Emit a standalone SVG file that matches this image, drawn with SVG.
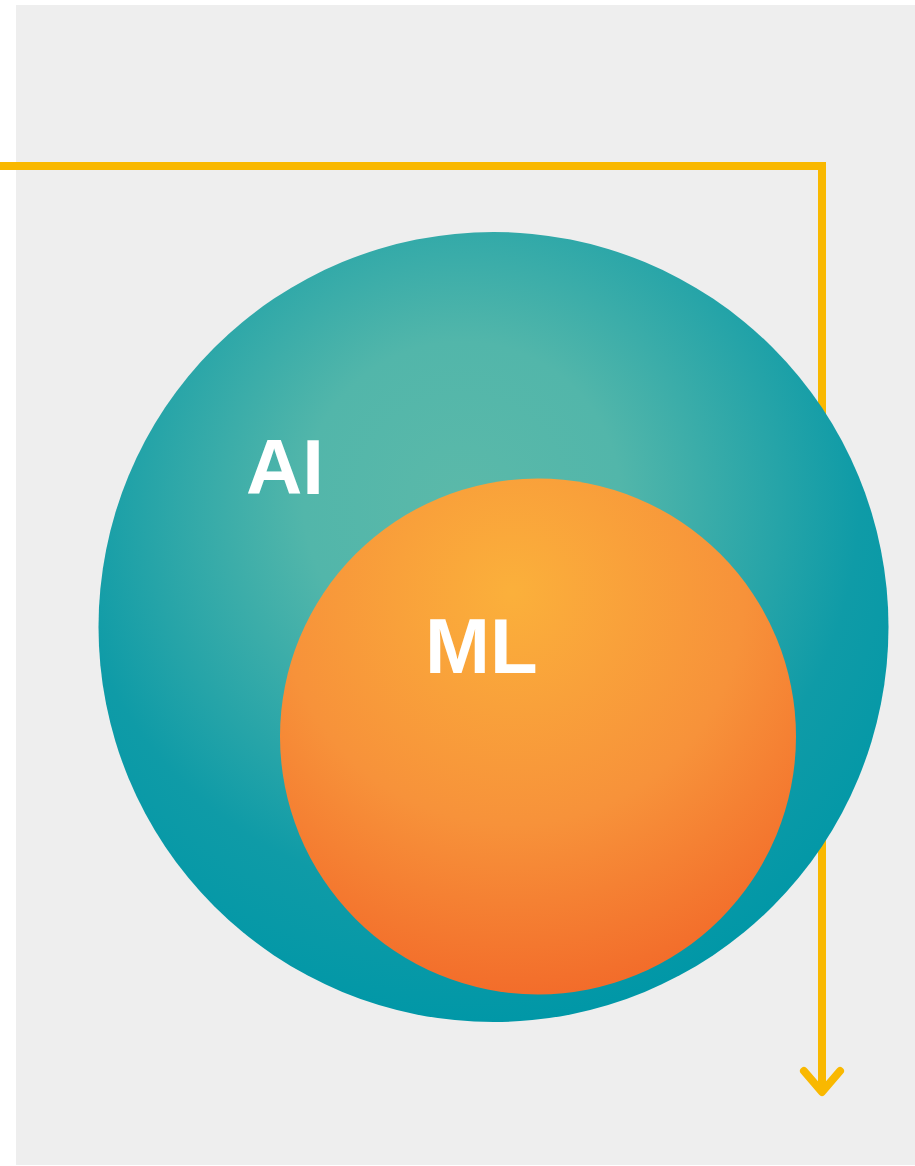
<svg xmlns="http://www.w3.org/2000/svg" width="915" height="1166" viewBox="0 0 915 1166">
  <style>
    .lbl { font-family: "Liberation Sans", Arial, sans-serif; font-weight: bold; font-size: 78px; fill: #ffffff; }
    .conn { fill: none; stroke: #f9b800; stroke-width: 8; }
  </style>
  <defs>
    <radialGradient id="gAI" cx="0.46" cy="0.34" r="0.67" fx="0.46" fy="0.34">
      <stop offset="0" stop-color="#5bb9a9"/>
      <stop offset="0.3" stop-color="#52b6aa"/>
      <stop offset="0.75" stop-color="#0f9ba7"/>
      <stop offset="1" stop-color="#0097a7"/>
    </radialGradient>
    <radialGradient id="gML" cx="0.45" cy="0.22" r="0.9" fx="0.45" fy="0.22">
      <stop offset="0" stop-color="#fbb03b"/>
      <stop offset="0.5" stop-color="#f7923a"/>
      <stop offset="1" stop-color="#f15f25"/>
    </radialGradient>
  </defs>
  <rect x="0" y="0" width="915" height="1166" fill="#ffffff"/>
  <rect x="16" y="5" width="899" height="1160" fill="#eeeeee"/>
  <g id="connectors">
    <path class="conn" d="M0 166 H822 V1092" stroke-linejoin="miter"/>
    <path class="conn" d="M804 1071 L822 1092 L840 1071" stroke-linecap="round" stroke-linejoin="round"/>
  </g>
  <g id="ai">
    <circle cx="493.5" cy="627" r="395" fill="url(#gAI)"/>
    <text class="lbl" x="246" y="494">AI</text>
  </g>
  <g id="ml">
    <circle cx="538" cy="736.5" r="258" fill="url(#gML)"/>
    <text class="lbl" x="425" y="673">ML</text>
  </g>
</svg>
